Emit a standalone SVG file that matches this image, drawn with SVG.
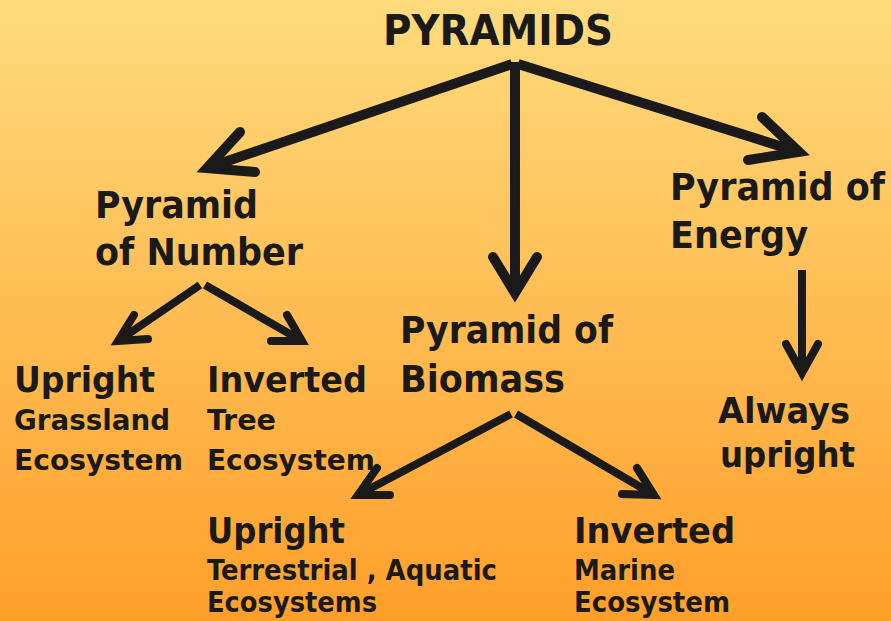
<svg xmlns="http://www.w3.org/2000/svg" width="891" height="621" viewBox="0 0 891 621">
<defs>
<linearGradient id="bg" x1="0" y1="0" x2="0" y2="1">
<stop offset="0" stop-color="#FFDB7D"/>
<stop offset="1" stop-color="#FF9F2A"/>
</linearGradient>
</defs>
<style>
text{font-family:"DejaVu Sans Condensed","DejaVu Sans",sans-serif;font-weight:bold;fill:#1a1a1a}
.t0{font-size:42px}
.t1{font-size:37px}
.t2{font-size:36px}
.t3{font-size:28px}
.ln{fill:none;stroke:#1a1a1a;stroke-linecap:butt}
.hd{fill:none;stroke:#1a1a1a;stroke-linecap:round;stroke-linejoin:miter;stroke-miterlimit:10}
.w1{stroke-width:10}
.w2{stroke-width:8}
</style>
<rect width="891" height="621" fill="url(#bg)"/>
<g id="connectors">
<path class="ln w1" d="M512,64 L207,168"/>
<path class="hd w1" d="M240,132 L207,168 L255,172"/>
<path class="ln w1" d="M518,64 L799,152"/>
<path class="hd w1" d="M762,117 L799,152 L748,160"/>
<path class="ln w1" d="M515,62 L515,293"/>
<path class="hd w1" d="M493,257 L515,293 L537,257"/>
<path class="ln w2" d="M200,285 L118,341"/>
<path class="hd w2" d="M134,315 L118,341 L148,339"/>
<path class="ln w2" d="M205,285 L302,341"/>
<path class="hd w2" d="M287,315 L302,341 L271,341"/>
<path class="ln w2" d="M511,414 L358,495"/>
<path class="hd w2" d="M377,468 L358,495 L390,495"/>
<path class="ln w2" d="M516,414 L654,495"/>
<path class="hd w2" d="M637,468 L654,495 L622,494"/>
<path class="ln w2" d="M802,270 L802,373"/>
<path class="hd w2" d="M786,344 L802,373 L818,344"/>
</g>
<g id="pyramids"><text class="t0" x="383" y="45" textLength="230" lengthAdjust="spacingAndGlyphs">PYRAMIDS</text></g>
<g id="pyramid-number"><text class="t1" x="95" y="218" textLength="163" lengthAdjust="spacingAndGlyphs">Pyramid</text><text class="t1" x="95" y="265" textLength="208" lengthAdjust="spacingAndGlyphs">of Number</text></g>
<g id="pyramid-biomass"><text class="t1" x="400" y="343" textLength="213" lengthAdjust="spacingAndGlyphs">Pyramid of</text><text class="t1" x="400" y="392" textLength="165" lengthAdjust="spacingAndGlyphs">Biomass</text></g>
<g id="pyramid-energy"><text class="t1" x="670" y="200" textLength="215" lengthAdjust="spacingAndGlyphs">Pyramid of</text><text class="t1" x="670" y="248" textLength="138" lengthAdjust="spacingAndGlyphs">Energy</text></g>
<g id="number-upright"><text class="t2" x="14" y="392" textLength="141" lengthAdjust="spacingAndGlyphs">Upright</text><text class="t3" x="14" y="430" textLength="156" lengthAdjust="spacingAndGlyphs">Grassland</text><text class="t3" x="14" y="470" textLength="169" lengthAdjust="spacingAndGlyphs">Ecosystem</text></g>
<g id="number-inverted"><text class="t2" x="207" y="392" textLength="160" lengthAdjust="spacingAndGlyphs">Inverted</text><text class="t3" x="207" y="430" textLength="69" lengthAdjust="spacingAndGlyphs">Tree</text><text class="t3" x="207" y="470" textLength="168" lengthAdjust="spacingAndGlyphs">Ecosystem</text></g>
<g id="biomass-upright"><text class="t2" x="207" y="543" textLength="138" lengthAdjust="spacingAndGlyphs">Upright</text><text class="t3" x="207" y="580" textLength="290" lengthAdjust="spacingAndGlyphs">Terrestrial , Aquatic</text><text class="t3" x="207" y="612" textLength="170" lengthAdjust="spacingAndGlyphs">Ecosystems</text></g>
<g id="biomass-inverted"><text class="t2" x="574" y="543" textLength="161" lengthAdjust="spacingAndGlyphs">Inverted</text><text class="t3" x="574" y="580" textLength="101" lengthAdjust="spacingAndGlyphs">Marine</text><text class="t3" x="574" y="612" textLength="156" lengthAdjust="spacingAndGlyphs">Ecosystem</text></g>
<g id="energy-upright"><text class="t2" x="718" y="423" textLength="132" lengthAdjust="spacingAndGlyphs">Always</text><text class="t2" x="720" y="467" textLength="135" lengthAdjust="spacingAndGlyphs">upright</text></g>
</svg>
